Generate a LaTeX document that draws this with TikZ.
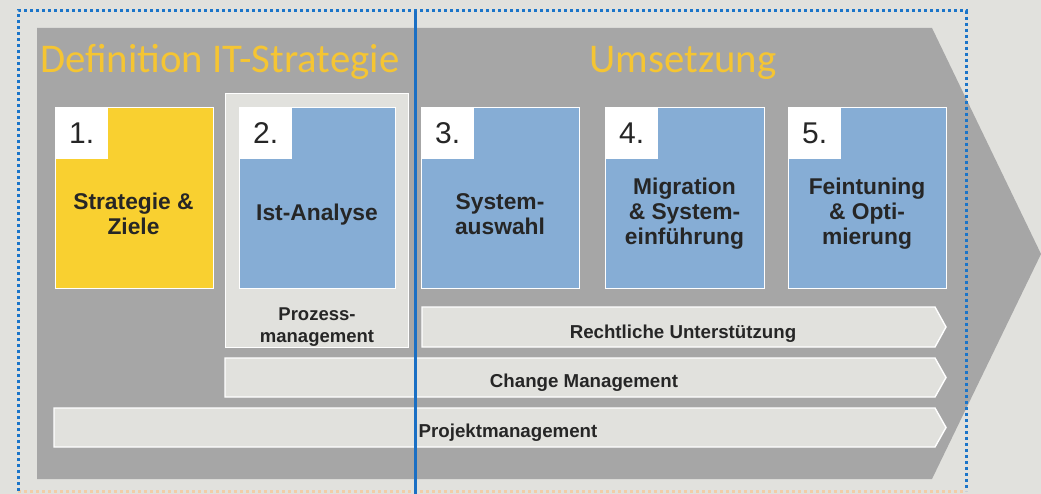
\documentclass[tikz,border=0pt]{standalone}
\usepackage{fontspec}
\setmainfont{Liberation Sans}
\newfontfamily\hdrfont{Carlito}
\definecolor{bg}{HTML}{E1E1DD}
\definecolor{chev}{HTML}{A6A6A6}
\definecolor{lightbar}{HTML}{E1E1DD}
\definecolor{yel}{HTML}{F9D030}
\definecolor{blu}{HTML}{86ADD5}
\definecolor{hdrcol}{HTML}{F5C533}
\definecolor{txt}{HTML}{262626}
\definecolor{frameblue}{HTML}{1B75C9}
\definecolor{framepeach}{HTML}{F2CDA8}
\definecolor{vline}{HTML}{1A6FC4}
\tikzset{
  stepbox/.style={draw=white, line width=1.4pt, anchor=north west, inner sep=0pt,
    minimum width=157pt, minimum height=181pt},
  numbox/.style={fill=white, anchor=north west, inner sep=0pt,
    minimum width=53pt, minimum height=52pt, text=txt,
    font=\fontsize{30}{32}\selectfont},
  lbl/.style={align=center, text=txt, inner sep=0pt,
    font=\fontsize{22.8}{25}\selectfont\bfseries},
  barlbl/.style={anchor=base, text=txt, inner sep=0pt,
    font=\fontsize{18.7}{22}\selectfont\bfseries},
  barshape/.style={fill=lightbar, draw=white, line width=1.4pt, line join=miter},
  hdr/.style={text=hdrcol, inner sep=0pt, font=\hdrfont\fontsize{40.8}{44}\selectfont},
  dotline/.style={line width=3pt, dash pattern=on 3pt off 3pt}
}
\begin{document}
\begin{tikzpicture}[x=1pt,y=-1pt]
\useasboundingbox (0,0) rectangle (1041,494);
\fill[bg] (0,0) rectangle (1041,494);
% big chevron
\fill[chev] (37,28) -- (932,28) -- (1041,254) -- (932,479) -- (37,479) -- cycle;
% headers
\node[hdr, anchor=base west] (h1) at (40,73) {Definition IT-Strategie};
\node[hdr, anchor=base] (h2) at (683,73) {Umsetzung};
% container for step 2
\node[draw=white, fill=lightbar, line width=1.4pt, anchor=north west, inner sep=0pt,
  minimum width=183pt, minimum height=254pt] (c2) at (225,93) {};
% step boxes
\node[stepbox, fill=yel, minimum width=158pt] (b1) at (55,107) {};
\node[stepbox, fill=blu, minimum width=156pt] (b2) at (239,107) {};
\node[stepbox, fill=blu, minimum width=158pt] (b3) at (421,107) {};
\node[stepbox, fill=blu, minimum width=159pt] (b4) at (605,107) {};
\node[stepbox, fill=blu, minimum width=158pt] (b5) at (788,107) {};
% number squares
\node[numbox] (n1) at (55,107) {1.};
\node[numbox] (n2) at (239,107) {2.};
\node[numbox] (n3) at (421,107) {3.};
\node[numbox] (n4) at (605,107) {4.};
\node[numbox] (n5) at (788,107) {5.};
% labels
\node[lbl] (l1) at (133.5,214) {Strategie \&\\Ziele};
\node[lbl] (l2) at (317,215) {Ist-Analyse};
\node[lbl] (l3) at (500,214) {System-\\auswahl};
\node[lbl] (l4) at (684.5,214) {Migration\\\& System-\\einführung};
\node[lbl] (l5) at (867,214) {Feintuning\\\& Opti-\\mierung};
\node[align=center, text=txt, inner sep=0pt, font=\fontsize{18.5}{22}\selectfont\bfseries]
  (pm) at (317,327.5) {Prozess-\\management};
% bars
\draw[barshape] (422,307) -- (935,307) -- (946,327) -- (935,347) -- (422,347) -- cycle;
\draw[barshape] (225,358) -- (935,358) -- (946,377.5) -- (935,397) -- (225,397) -- cycle;
\draw[barshape] (54,408) -- (935,408) -- (946,427.5) -- (935,447) -- (54,447) -- cycle;
\node[barlbl] (r1) at (683,338) {Rechtliche Unterstützung};
\node[barlbl] (r2) at (584,387) {Change Management};
\node[barlbl] (r3) at (508,437) {Projektmanagement};
% dotted frame
\draw[framepeach, dotline] (18,491) -- (966,491);
\draw[frameblue, dotline] (18,491) -- (18,11) -- (966,11) -- (966,491);
% vertical divider
\draw[vline, line width=3pt] (415,11) -- (415,494);
\end{tikzpicture}
\end{document}
